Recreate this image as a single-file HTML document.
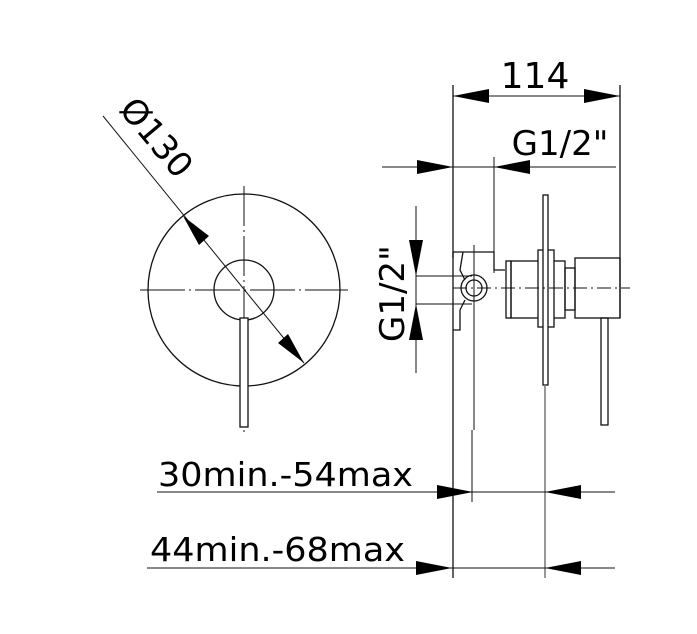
<!DOCTYPE html>
<html><head><meta charset="utf-8"><style>body{margin:0;background:#fff}svg{display:block}</style></head>
<body>
<svg width="697" height="634" viewBox="0 0 697 634" xmlns="http://www.w3.org/2000/svg" font-family="DejaVu Sans, Liberation Sans, sans-serif" fill="none" stroke="#111" stroke-width="1.3">
<!-- left view -->
<circle cx="244" cy="290" r="96"/>
<circle cx="244" cy="290" r="30"/>
<line x1="244" y1="186" x2="244" y2="432" stroke-width="1" stroke-dasharray="40,4,2,4"/>
<line x1="140" y1="290" x2="348" y2="290" stroke-width="1" stroke-dasharray="45,4,2,4"/>
<rect x="240" y="318" width="8" height="109" fill="#fff"/>
<line x1="103" y1="116" x2="304" y2="363" stroke-width="1"/>
<polygon points="183,216 209,236 199,245" fill="#000" stroke="none"/>
<polygon points="304,363 278,343 288,334" fill="#000" stroke="none"/>
<text x="0" y="0" transform="translate(118,110) rotate(50)" font-size="34" fill="#000" stroke="none">Ø130</text>

<!-- right view -->
<line x1="453" y1="85" x2="453" y2="578"/>
<line x1="620" y1="85" x2="620" y2="318"/>
<line x1="453" y1="96" x2="620" y2="96" stroke-width="1"/>
<polygon points="453,96 489,89 489,103" fill="#000" stroke="none"/>
<polygon points="620,96 584,89 584,103" fill="#000" stroke="none"/>
<text x="535" y="88" font-size="36" text-anchor="middle" fill="#000" stroke="none">114</text>

<line x1="382" y1="167" x2="616" y2="167" stroke-width="1"/>
<polygon points="453,167 417,160 417,174" fill="#000" stroke="none"/>
<polygon points="494,167 530,160 530,174" fill="#000" stroke="none"/>
<line x1="494" y1="157" x2="494" y2="273" stroke-width="1"/>
<text x="560" y="155" font-size="34" text-anchor="middle" fill="#000" stroke="none">G1/2"</text>

<line x1="416" y1="206" x2="416" y2="373" stroke-width="1"/>
<line x1="416" y1="276" x2="472" y2="276" stroke-width="1"/>
<line x1="416" y1="304" x2="472" y2="304" stroke-width="1"/>
<polygon points="416,276 409,240 423,240" fill="#000" stroke="none"/>
<polygon points="416,304 409,340 423,340" fill="#000" stroke="none"/>
<text x="0" y="0" transform="translate(404,342) rotate(-90)" font-size="34" fill="#000" stroke="none">G1/2"</text>

<!-- bracket -->
<path d="M453,252 H494 V270 H505 M453,252 V258 M463,252 L460,270 L465,280 M465,300 L460,310 V330 H453"/>
<circle cx="474" cy="288" r="13"/>
<circle cx="474" cy="288" r="8"/>
<line x1="474" y1="245" x2="474" y2="430" stroke-width="1"/>
<rect x="506" y="261" width="5" height="57"/>
<rect x="511" y="261" width="54" height="57"/>
<rect x="538" y="250" width="16" height="77" fill="#fff"/>
<rect x="543" y="195" width="5" height="190" fill="#fff"/>
<line x1="545" y1="385" x2="545" y2="578" stroke="#777" stroke-width="1.5"/>
<rect x="565" y="268" width="10" height="42"/>
<rect x="575" y="258" width="45" height="60"/>
<rect x="601" y="318" width="7" height="107"/>
<line x1="453" y1="288" x2="630" y2="288" stroke-width="1" stroke-dasharray="14,4,2,4"/>

<!-- bottom dims -->
<line x1="472" y1="430" x2="472" y2="502" stroke-width="1"/>
<line x1="157" y1="492" x2="615" y2="492" stroke-width="1"/>
<polygon points="473,492 437,485 437,499" fill="#000" stroke="none"/>
<polygon points="545,492 581,485 581,499" fill="#000" stroke="none"/>
<text x="158" y="486" font-size="33" textLength="255" lengthAdjust="spacingAndGlyphs" fill="#000" stroke="none">30min.-54max</text>
<line x1="147" y1="568" x2="615" y2="568" stroke-width="1"/>
<polygon points="452,568 416,561 416,575" fill="#000" stroke="none"/>
<polygon points="545,568 581,561 581,575" fill="#000" stroke="none"/>
<text x="150" y="561" font-size="33" textLength="255" lengthAdjust="spacingAndGlyphs" fill="#000" stroke="none">44min.-68max</text>
</svg>
</body></html>
